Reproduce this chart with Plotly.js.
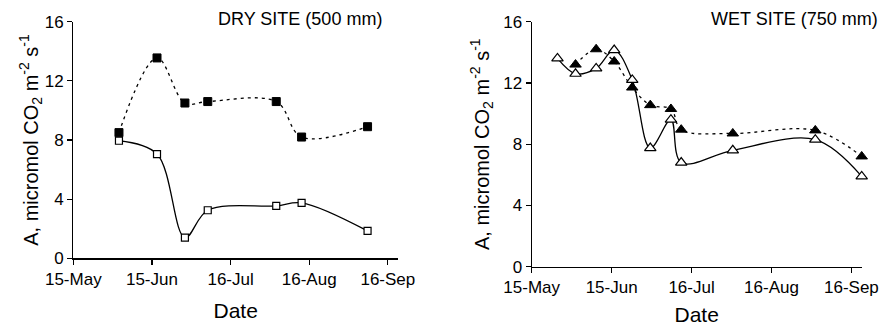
<!DOCTYPE html>
<html>
<head>
<meta charset="utf-8">
<script src="https://cdn.plot.ly/plotly-3.0.1.min.js"></script>
<style>html,body{margin:0;padding:0;background:#fff;}#chart{width:882px;height:326px;}</style>
</head>
<body>
<div id="chart"></div>
<script>
// ---- data ----
const dryDates = ['2000-06-02','2000-06-17','2000-06-28','2000-07-07','2000-08-03','2000-08-13','2000-09-08'];
const dryFilled = [8.5, 13.55, 10.5, 10.6, 10.6, 8.2, 8.9];
const dryOpen = [7.95, 7.05, 1.4, 3.25, 3.55, 3.75, 1.85];

const wetDatesFilled = ['2000-06-01','2000-06-09','2000-06-16','2000-06-23','2000-06-30','2000-07-08','2000-07-12','2000-08-01','2000-09-02','2000-09-20'];
const wetFilled = [13.2, 14.2, 13.4, 11.7, 10.55, 10.3, 8.95, 8.7, 8.9, 7.2];
const wetDatesOpen = ['2000-05-25','2000-06-01','2000-06-09','2000-06-16','2000-06-23','2000-06-30','2000-07-08','2000-07-12','2000-08-01','2000-09-02','2000-09-20'];
const wetOpen = [13.6, 12.6, 12.95, 14.15, 12.2, 7.75, 9.6, 6.8, 7.6, 8.3, 5.9];

const xTickVals = ['2000-05-15','2000-06-15','2000-07-16','2000-08-16','2000-09-16'];
const xTickText = ['15-May','15-Jun','16-Jul','16-Aug','16-Sep'];
const yTickVals = [0, 4, 8, 12, 16];
const xRange = ['2000-05-15','2000-09-20'];
const panelTitles = ['DRY SITE (500 mm)', 'WET SITE (750 mm)'];
const yTitle = 'A, micromol CO<sub>2</sub> m<sup>-2</sup> s<sup>-1</sup>';
const xTitle = 'Date';

// ---- styling ----
const FONT = 'Liberation Sans, Arial, sans-serif';
const dotted = {color:'#000', width:1.3, dash:'3px,4px', shape:'spline', smoothing:1};
const solid = {color:'#000', width:1.3, shape:'spline', smoothing:1};

const traces = [
  {x: dryDates, y: dryFilled, xaxis:'x', yaxis:'y', mode:'lines+markers', line: dotted,
   marker:{symbol:'square', size:8, color:'#000', line:{color:'#000', width:1}}, cliponaxis:false},
  {x: dryDates, y: dryOpen, xaxis:'x', yaxis:'y', mode:'lines+markers', line: solid,
   marker:{symbol:'square', size:7, color:'#fff', line:{color:'#000', width:1.2}}, cliponaxis:false},
  {x: wetDatesFilled, y: wetFilled, xaxis:'x2', yaxis:'y2', mode:'lines+markers', line: dotted,
   marker:{symbol:'triangle-up', size:10, color:'#000', line:{color:'#000', width:1}}, cliponaxis:false},
  {x: wetDatesOpen, y: wetOpen, xaxis:'x2', yaxis:'y2', mode:'lines+markers', line: solid,
   marker:{symbol:'triangle-up', size:10, color:'#fff', line:{color:'#000', width:1.2}}, cliponaxis:false}
];

function xAxis(domain, anchor){
  return {domain: domain, anchor: anchor, type:'date', range: xRange,
    tickmode:'array', tickvals: xTickVals, ticktext: xTickText,
    showline:true, linecolor:'#000', linewidth:1.2, ticks:'outside', ticklen:5, tickwidth:1.2, tickcolor:'#000',
    showgrid:false, zeroline:false, tickfont:{family:FONT, size:17, color:'#000'},
    title:{text: xTitle, font:{family:FONT, size:21, color:'#000'}, standoff: 15}};
}
function yAxis(domain, anchor, standoff){
  return {domain: domain, anchor: anchor, range:[0,16], tickmode:'array', tickvals: yTickVals,
    showline:true, linecolor:'#000', linewidth:1.2, ticks:'outside', ticklen:5, tickwidth:1.2, tickcolor:'#000',
    showgrid:false, zeroline:false, tickfont:{family:FONT, size:17, color:'#000'},
    title:{text: yTitle, font:{family:FONT, size:20, color:'#000'}, standoff: standoff}};
}

const layout = {
  width:882, height:326, margin:{l:0, r:0, t:0, b:0},
  paper_bgcolor:'#fff', plot_bgcolor:'#fff', showlegend:false,
  font:{family:FONT, color:'#000'},
  xaxis: xAxis([73.3/882, 398/882], 'y'),
  yaxis: yAxis([1-258.3/326, 1-21.7/326], 'x', 0),
  xaxis2: xAxis([531.7/882, 861.7/882], 'y2'),
  yaxis2: yAxis([1-266.7/326, 1-21.7/326], 'x2', 8),
  annotations: [
    {text: panelTitles[0], xref:'paper', yref:'paper', x:300/882, y:1-19.5/326, xanchor:'center', yanchor:'middle',
     showarrow:false, font:{family:FONT, size:18, color:'#000'}},
    {text: panelTitles[1], xref:'paper', yref:'paper', x:794/882, y:1-19.5/326, xanchor:'center', yanchor:'middle',
     showarrow:false, font:{family:FONT, size:18, color:'#000'}}
  ]
};

Plotly.newPlot('chart', traces, layout, {staticPlot:true, displayModeBar:false});
</script>
</body>
</html>
